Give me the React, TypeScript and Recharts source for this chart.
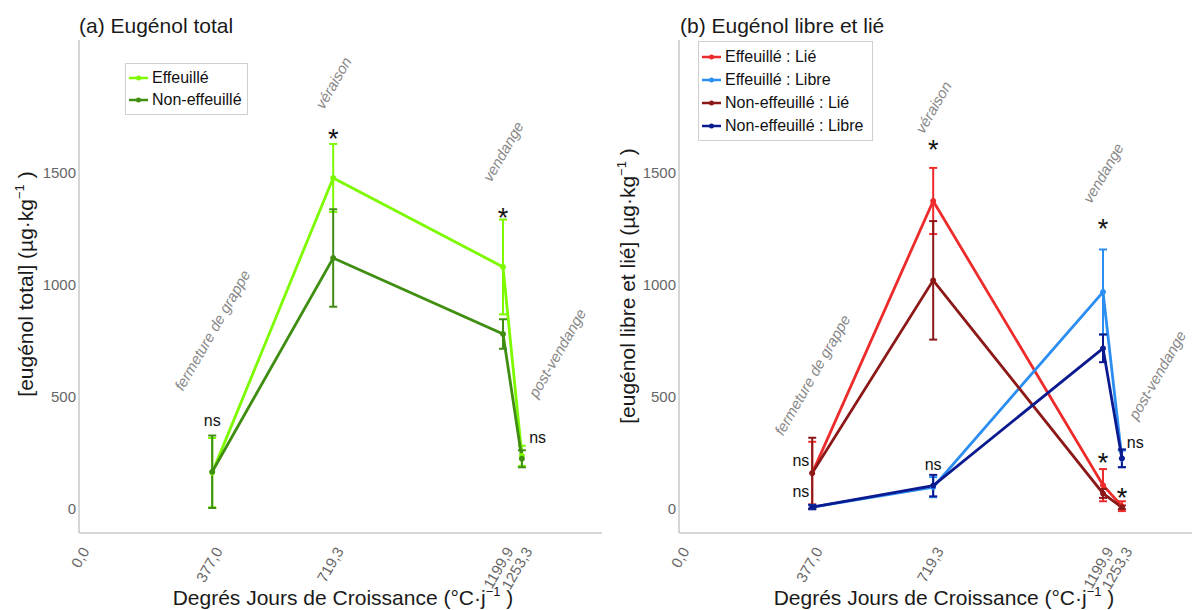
import React from "react"
import { LineChart, Line, XAxis, YAxis, ErrorBar, ReferenceDot } from "recharts"

const FONT = "'Liberation Sans', Arial, sans-serif"

// degrés-jours de croissance des prélèvements
const dju = [377.0, 719.3, 1199.9, 1253.3]
const xTicks = [0, 377.0, 719.3, 1199.9, 1253.3]
const yTicks = [0, 500, 1000, 1500]

// (a) eugénol total, µg/kg
const totalEff = [160, 1478, 1080, 235]
const totalEffSd = [155, 152, 212, 45]
const totalNon = [164, 1120, 780, 222]
const totalNonSd = [162, 218, 66, 38]

// (b) formes liée / libre
const lieEff = [158, 1375, 104, 10]
const lieEffSd = [140, 148, 72, 22]
const libreEff = [6, 95, 968, 222]
const libreEffSd = [8, 45, 190, 37]
const lieNon = [158, 1020, 67, 5]
const lieNonSd = [158, 265, 20, 8]
const libreNon = [6, 102, 716, 224]
const libreNonSd = [10, 48, 62, 40]

// stades phénologiques (texte penché)
const stagesA = [
  { x: 377.0, y: 797, text: "fermeture de grappe" },
  { x: 719.3, y: 1904, text: "véraison" },
  { x: 1199.9, y: 1597, text: "vendange" },
  { x: 1353, y: 695, text: "post-vendange" },
]
const stagesB = [
  { x: 377.0, y: 597, text: "fermeture de grappe" },
  { x: 719.3, y: 1795, text: "véraison" },
  { x: 1199.9, y: 1500, text: "vendange" },
  { x: 1353, y: 597, text: "post-vendange" },
]

// significativité
const signifA = [
  { x: 377.0, y: 395, text: "ns" },
  { x: 719.3, y: 1677, text: "*" },
  { x: 1199.9, y: 1325, text: "*" },
  { x: 1298, y: 319, text: "ns" },
]
const signifB = [
  { x: 345, y: 216, text: "ns" },
  { x: 345, y: 77, text: "ns" },
  { x: 719.3, y: 198, text: "ns" },
  { x: 719.3, y: 1630, text: "*" },
  { x: 1199.9, y: 1277, text: "*" },
  { x: 1199.9, y: 230, text: "*" },
  { x: 1253.3, y: 73, text: "*" },
  { x: 1291, y: 297, text: "ns" },
]

const dataA = dju.map((x, i) => ({
  x,
  eff: totalEff[i],
  effSd: totalEffSd[i],
  non: totalNon[i],
  nonSd: totalNonSd[i],
}))

const dataB = dju.map((x, i) => ({
  x,
  lieEff: lieEff[i],
  lieEffSd: lieEffSd[i],
  libreEff: libreEff[i],
  libreEffSd: libreEffSd[i],
  lieNon: lieNon[i],
  lieNonSd: lieNonSd[i],
  libreNon: libreNon[i],
  libreNonSd: libreNonSd[i],
}))

interface Serie {
  key: string
  sd: string
  name: string
  color: string
}

const seriesA: Serie[] = [
  { key: "eff", sd: "effSd", name: "Effeuillé", color: "#7dfa00" },
  { key: "non", sd: "nonSd", name: "Non-effeuillé", color: "#3f8e12" },
]

const seriesB: Serie[] = [
  { key: "lieEff", sd: "lieEffSd", name: "Effeuillé : Lié", color: "#ee2b2b" },
  { key: "libreEff", sd: "libreEffSd", name: "Effeuillé : Libre", color: "#2b8ef0" },
  { key: "lieNon", sd: "lieNonSd", name: "Non-effeuillé : Lié", color: "#8c1818" },
  { key: "libreNon", sd: "libreNonSd", name: "Non-effeuillé : Libre", color: "#0b1a8e" },
]

const AXIS_GRAY = "#c9c9c9"
const TICK_GRAY = "#666"

const XTick = (props: any) => {
  const { x, y, payload } = props
  const label = Number(payload.value).toFixed(1).replace(".", ",")
  const ax = x + 11
  const ay = y + 18
  return (
    <text
      x={ax}
      y={ay}
      transform={`rotate(-60 ${ax} ${ay})`}
      textAnchor="end"
      fontSize={15}
      fontFamily={FONT}
      fill={TICK_GRAY}
    >
      {label}
    </text>
  )
}

const stageShape = (text: string) => (p: any) => (
  <text
    x={p.cx}
    y={p.cy}
    transform={`rotate(-60 ${p.cx} ${p.cy})`}
    textAnchor="middle"
    dominantBaseline="central"
    fontSize={15}
    fontStyle="italic"
    fontFamily={FONT}
    fill="#888"
  >
    {text}
  </text>
)

const signifShape = (text: string) => (p: any) =>
  text === "*" ? (
    <text x={p.cx} y={p.cy + 15} textAnchor="middle" fontSize={27} fontFamily={FONT} fill="#111">
      *
    </text>
  ) : (
    <text
      x={p.cx}
      y={p.cy}
      textAnchor="middle"
      dominantBaseline="central"
      fontSize={16}
      fontFamily={FONT}
      fill="#111"
    >
      {text}
    </text>
  )

interface PanelProps {
  data: any[]
  series: Serie[]
  stages: { x: number; y: number; text: string }[]
  signif: { x: number; y: number; text: string }[]
}

const Panel: React.FC<PanelProps> = ({ data, series, stages, signif }) => (
  <LineChart
    width={610}
    height={610}
    data={data}
    margin={{ top: 40, right: 8, bottom: 37, left: 19 }}
    style={{ overflow: "visible" }}
  >
    <XAxis
      dataKey="x"
      type="number"
      domain={[0, 1480]}
      ticks={xTicks}
      interval={0}
      height={40}
      tickLine={false}
      tickSize={0}
      tickMargin={0}
      axisLine={{ stroke: AXIS_GRAY, strokeWidth: 1.5 }}
      tick={<XTick />}
      allowDataOverflow
    />
    <YAxis
      type="number"
      domain={[-110, 2095]}
      ticks={yTicks}
      interval={0}
      width={60}
      tickLine={false}
      tickSize={0}
      tickMargin={3}
      axisLine={{ stroke: AXIS_GRAY, strokeWidth: 1.5 }}
      tick={{ fill: TICK_GRAY, fontSize: 15, fontFamily: FONT }}
      allowDataOverflow
    />
    {series.map((s) => (
      <Line
        key={s.key}
        type="linear"
        dataKey={s.key}
        name={s.name}
        stroke={s.color}
        strokeWidth={2.8}
        dot={{ r: 2.5, fill: s.color, stroke: s.color, strokeWidth: 1 }}
        activeDot={false}
        isAnimationActive={false}
      >
        <ErrorBar
          dataKey={s.sd}
          direction="y"
          width={4}
          stroke={s.color}
          strokeWidth={2}
          isAnimationActive={false}
        />
      </Line>
    ))}
    {stages.map((s) => (
      <ReferenceDot
        key={s.text}
        x={s.x}
        y={s.y}
        r={0}
        ifOverflow="visible"
        shape={stageShape(s.text)}
      />
    ))}
    {signif.map((s, i) => (
      <ReferenceDot
        key={`sig-${i}`}
        x={s.x}
        y={s.y}
        r={0}
        ifOverflow="visible"
        shape={signifShape(s.text)}
      />
    ))}
  </LineChart>
)

const Legend = ({ series, left, top, width, rowH }: any) => (
  <div
    style={{
      position: "absolute",
      left,
      top,
      width,
      border: "1px solid #cfcfcf",
      background: "#fff",
      padding: "3px 0 3px 2px",
      fontFamily: FONT,
      fontSize: 16,
      color: "#111",
    }}
  >
    {series.map((s: Serie) => (
      <div key={s.key} style={{ display: "flex", alignItems: "center", height: rowH }}>
        <svg width={22} height={10} style={{ marginRight: 2 }}>
          <line x1={1} y1={5} x2={20} y2={5} stroke={s.color} strokeWidth={2.5} />
          <circle cx={10.5} cy={5} r={2.5} fill={s.color} />
        </svg>
        <span>{s.name}</span>
      </div>
    ))}
  </div>
)

const YTitle = ({ x, y, text }: any) => (
  <text
    x={x}
    y={y}
    transform={`rotate(-90 ${x} ${y})`}
    textAnchor="middle"
    fontSize={21}
    fontFamily={FONT}
    fill="#1a1a1a"
  >
    {text} (µg·kg
    <tspan dy={-9} fontSize={13}>
      −1
    </tspan>
    <tspan dy={9}> )</tspan>
  </text>
)

const XTitle = ({ x, y }: any) => (
  <text x={x} y={y} textAnchor="middle" fontSize={21} fontFamily={FONT} fill="#1a1a1a">
    Degrés Jours de Croissance (°C·j
    <tspan dy={-9} fontSize={13}>
      −1
    </tspan>
    <tspan dy={9}> )</tspan>
  </text>
)

export default function App() {
  return (
    <div
      style={{
        position: "absolute",
        left: 0,
        top: 0,
        width: 1192,
        height: 610,
        overflow: "hidden",
        background: "#fff",
      }}
    >
      <div style={{ position: "absolute", left: 0, top: 0 }}>
        <Panel data={dataA} series={seriesA} stages={stagesA} signif={signifA} />
      </div>
      <div style={{ position: "absolute", left: 600, top: 0 }}>
        <Panel data={dataB} series={seriesB} stages={stagesB} signif={signifB} />
      </div>
      <svg
        width={1192}
        height={610}
        style={{ position: "absolute", left: 0, top: 0, pointerEvents: "none" }}
      >
        <text x={79} y={33} fontSize={21} fontFamily={FONT} fill="#1a1a1a">
          (a) Eugénol total
        </text>
        <text x={680} y={33} fontSize={21} fontFamily={FONT} fill="#1a1a1a">
          (b) Eugénol libre et lié
        </text>
        <YTitle x={33} y={284} text="[eugénol total]" />
        <YTitle x={635} y={286} text="[eugénol libre et lié]" />
        <XTitle x={343} y={605} />
        <XTitle x={944} y={605} />
      </svg>
      <Legend series={seriesA} left={125} top={63} width={119} rowH={22} />
      <Legend series={seriesB} left={698} top={41} width={171} rowH={23} />
    </div>
  )
}
